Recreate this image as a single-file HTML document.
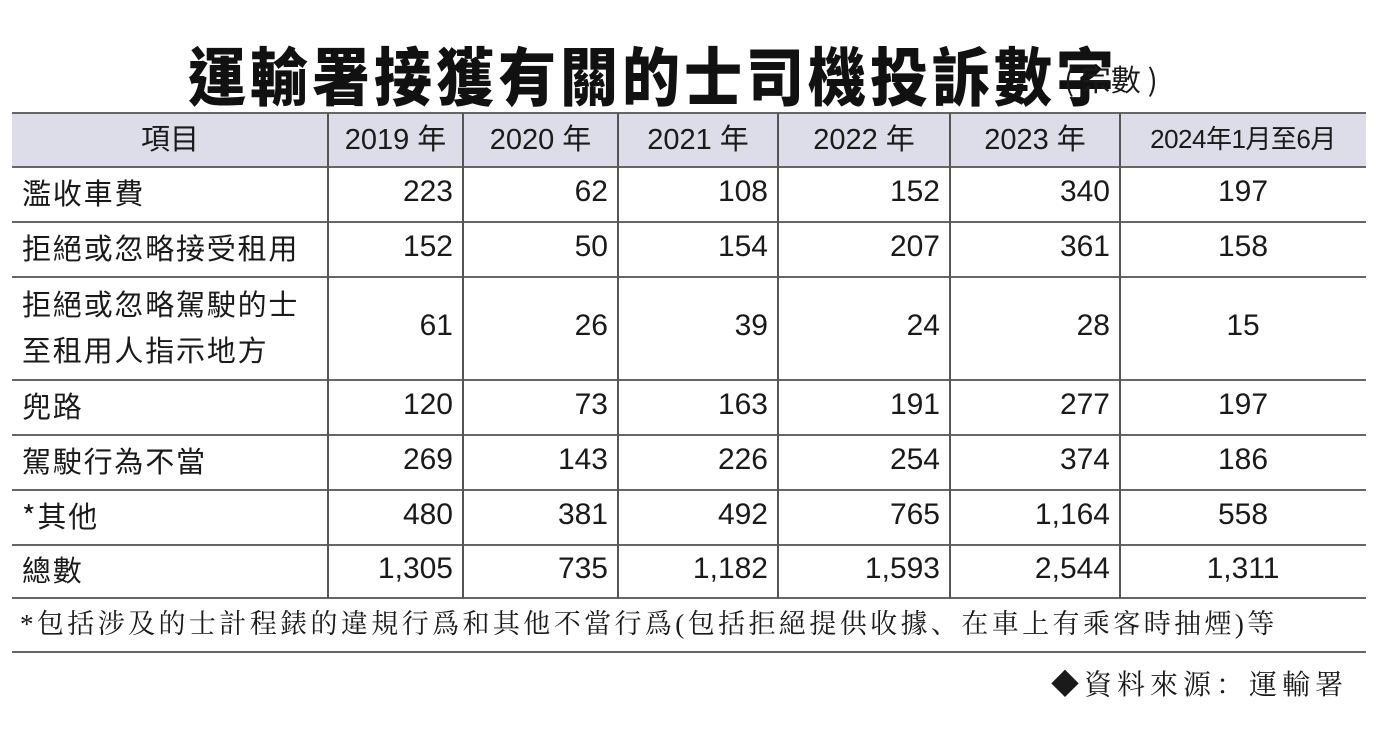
<!DOCTYPE html>
<html><head><meta charset="utf-8">
<style>
body{margin:0;width:1378px;height:746px;background:#fff;position:relative;overflow:hidden;font-family:"Liberation Sans","Noto Sans CJK TC",sans-serif;color:#1a1a1a}
.abs{position:absolute}
#title{left:188px;top:40px;font-size:58px;font-weight:900;line-height:60px;white-space:nowrap;font-family:"Noto Sans CJK TC",sans-serif;color:#111;letter-spacing:4px;transform:scaleY(1.1);transform-origin:top left}
#unit{left:1064px;top:58px;font-size:30px;line-height:40px;font-family:"Noto Sans CJK TC",sans-serif;white-space:nowrap}
.hl{position:absolute;left:12px;width:1354px;height:2px;background:#666}
.vl{position:absolute;width:2px;background:#555;top:113px;height:485px}
.cell{position:absolute;font-size:29px;display:flex;align-items:center;white-space:nowrap}
.serif{font-family:"Liberation Serif","Noto Serif CJK SC",serif}
</style></head><body>
<div id="title" class="abs">運輸署接獲有關的士司機投訴數字</div>
<div id="unit" class="abs">( 宗數 )</div>
<div class="abs" style="left:12px;top:113px;width:1354px;height:54px;background:#dcdde8"></div>
<div id="table"></div>
<div class="abs serif" style="left:20px;top:602px;font-size:27px;line-height:44px;white-space:nowrap;letter-spacing:3.4px">*包括涉及的士計程錶的違規行爲和其他不當行爲(包括拒絕提供收據、在車上有乘客時抽煙)等</div>
<div class="abs" style="left:12px;top:651px;width:1354px;height:2px;background:#666"></div>
<div class="abs serif" style="right:30px;top:664px;font-size:28px;line-height:44px;white-space:nowrap;letter-spacing:5px">◆資料來源：運輸署</div>
<script>
const headers=['項目','2019 年','2020 年','2021 年','2022 年','2023 年','2024年1月至6月'];
const rowLabels=[['濫收車費'],['拒絕或忽略接受租用'],['拒絕或忽略駕駛的士','至租用人指示地方'],['兜路'],['駕駛行為不當'],['*其他'],['總數']];
const values=[
['223','62','108','152','340','197'],
['152','50','154','207','361','158'],
['61','26','39','24','28','15'],
['120','73','163','191','277','197'],
['269','143','226','254','374','186'],
['480','381','492','765','1,164','558'],
['1,305','735','1,182','1,593','2,544','1,311']];
const colX=[12,328,463,618,778,950,1120,1366];
const rowY=[113,167,222,277,380,435,490,545,598];
const t=document.getElementById('table');
rowY.forEach(y=>{const d=document.createElement('div');d.className='hl';d.style.top=(y-1)+'px';

t.appendChild(d);});
colX.slice(1,-1).forEach(x=>{const d=document.createElement('div');d.className='vl';d.style.left=(x-1)+'px';

t.appendChild(d);});
function cell(x0,x1,y0,y1,html,align,name){const d=document.createElement('div');d.className='cell';
d.style.left=x0+'px';d.style.width=(x1-x0)+'px';d.style.top=(y0-3)+'px';d.style.height=(y1-y0)+'px';
d.style.justifyContent=align;d.innerHTML=html;

t.appendChild(d);return d;}
headers.forEach((h,i)=>{const c=cell(colX[i],colX[i+1],rowY[0],rowY[1],h,'center','header-cell');if(i==6){c.style.fontSize='26px';c.style.letterSpacing='-0.5px';}});
rowLabels.forEach((l,r)=>{const c=cell(colX[0]+10,colX[1],rowY[r+1],rowY[r+2],l.join('<br>'),'flex-start','row-label');c.style.lineHeight='46px';c.style.fontFamily='"Noto Sans CJK TC",sans-serif';c.style.fontSize='29px';c.style.letterSpacing='1.8px';
values[r].forEach((v,i)=>{const vc=cell(colX[i+1],colX[i+2]-(i==5?0:10),rowY[r+1],rowY[r+2],v,i==5?'center':'flex-end','value-cell');vc.style.fontSize='30px';});});
</script>
</body></html>
